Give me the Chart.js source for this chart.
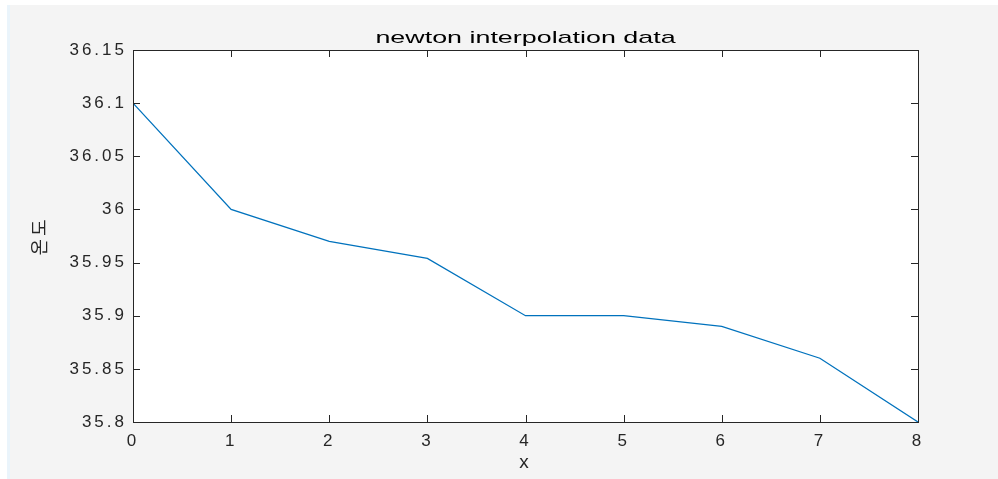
<!DOCTYPE html>
<html>
<head>
<meta charset="utf-8">
<script src="https://cdn.jsdelivr.net/npm/chart.js@4.4.1/dist/chart.umd.min.js"></script>
<style>
  html, body { margin: 0; padding: 0; background: #fff; }
  #wrap { width: 998px; height: 479px; }
</style>
</head>
<body>
<div id="wrap"><canvas id="grafico" width="998" height="479"></canvas></div>
<script>
// datos
const xValores = [0, 1, 2, 3, 4, 5, 6, 7, 8];
const temperaturas = [36.1, 36.0, 35.97, 35.954, 35.9, 35.9, 35.89, 35.86, 35.8];
const ticksY = [35.8, 35.85, 35.9, 35.95, 36, 36.05, 36.1, 36.15];
const ticksX = [0, 1, 2, 3, 4, 5, 6, 7, 8];
const TITULO = 'newton interpolation data';

const COLOR_EJES = '#262626';

// fondo gris de la figura y zona blanca del grafico
const fondo = {
  id: 'fondo',
  beforeDraw(chart) {
    const ctx = chart.ctx;
    const a = chart.chartArea;
    ctx.save();
    ctx.fillStyle = '#ffffff';
    ctx.fillRect(0, 0, chart.width, chart.height);
    ctx.fillStyle = '#eaf4fb';
    ctx.fillRect(7, 5, 3, chart.height - 5);
    ctx.fillStyle = '#f4f4f4';
    ctx.fillRect(10, 5, chart.width - 10, chart.height - 5);
    ctx.fillStyle = '#ffffff';
    ctx.fillRect(a.left, a.top, a.right - a.left, a.bottom - a.top);
    ctx.restore();
    ctx.letterSpacing = '3px';
  }
};

// caja y marcas hacia dentro, estilo matlab
const caja = {
  id: 'caja',
  afterDraw(chart) {
    const ctx = chart.ctx;
    const a = chart.chartArea;
    const sx = chart.scales.x, sy = chart.scales.y;
    const L = 7;
    ctx.save();
    ctx.letterSpacing = '0px';
    ctx.strokeStyle = COLOR_EJES;
    ctx.lineWidth = 1;
    ctx.beginPath();
    ticksX.forEach(v => {
      const px = Math.round(sx.getPixelForValue(v)) + 0.5;
      ctx.moveTo(px, a.bottom); ctx.lineTo(px, a.bottom - L);
      ctx.moveTo(px, a.top); ctx.lineTo(px, a.top + L);
    });
    ticksY.forEach(v => {
      const py = Math.round(sy.getPixelForValue(v)) + 0.5;
      ctx.moveTo(a.left, py); ctx.lineTo(a.left + L, py);
      ctx.moveTo(a.right, py); ctx.lineTo(a.right - L, py);
    });
    ctx.stroke();
    ctx.strokeRect(Math.round(a.left) + 0.5, Math.round(a.top) + 0.5,
      Math.round(a.right - a.left), Math.round(a.bottom - a.top));

    // titulo (la figura original esta estirada en horizontal)
    ctx.translate((a.left + a.right) / 2, 38);
    ctx.scale(1.58, 1);
    ctx.fillStyle = '#000000';
    ctx.font = '17px "Liberation Sans", Arial, sans-serif';
    ctx.textAlign = 'center';
    ctx.textBaseline = 'middle';
    ctx.fillText(TITULO, 0, 0);
    ctx.restore();
  }
};

new Chart(document.getElementById('grafico').getContext('2d'), {
  type: 'line',
  data: {
    datasets: [{
      label: 'datos',
      data: xValores.map((x, i) => ({ x: x, y: temperaturas[i] })),
      borderColor: '#0072BD',
      borderWidth: 1.3,
      pointRadius: 0,
      tension: 0,
      fill: false
    }]
  },
  options: {
    responsive: false,
    animation: false,
    layout: { padding: { left: 0, right: 80, top: 50, bottom: 0 } },
    plugins: {
      legend: { display: false },
      tooltip: { enabled: false },
      title: { display: false }
    },
    scales: {
      x: {
        type: 'linear',
        min: 0,
        max: 8,
        afterBuildTicks: s => { s.ticks = ticksX.map(v => ({ value: v })); },
        afterFit: s => { s.height = 57; },
        grid: { display: false, drawTicks: false },
        border: { display: false },
        ticks: {
          color: '#262626',
          padding: 9,
          font: { family: '"Liberation Sans", Arial, sans-serif', size: 17 },
          callback: v => String(v)
        },
        title: {
          display: true,
          text: 'x',
          color: '#262626',
          padding: { top: 0, bottom: 5 },
          font: { family: '"Liberation Sans", Arial, sans-serif', size: 19 }
        }
      },
      y: {
        type: 'linear',
        min: 35.8,
        max: 36.15,
        afterBuildTicks: s => { s.ticks = ticksY.map(v => ({ value: v })); },
        afterFit: s => { s.width = 133; },
        grid: { display: false, drawTicks: false },
        border: { display: false },
        ticks: {
          color: '#262626',
          padding: 6,
          font: { family: '"Liberation Sans", Arial, sans-serif', size: 17 },
          callback: v => String(parseFloat(v.toFixed(2)))
        },
        title: {
          display: true,
          text: '온도',
          color: '#262626',
          padding: { top: 28, bottom: 0 },
          font: { family: '"Noto Sans CJK KR", sans-serif', size: 18 }
        }
      }
    }
  },
  plugins: [fondo, caja]
});
</script>
</body>
</html>
